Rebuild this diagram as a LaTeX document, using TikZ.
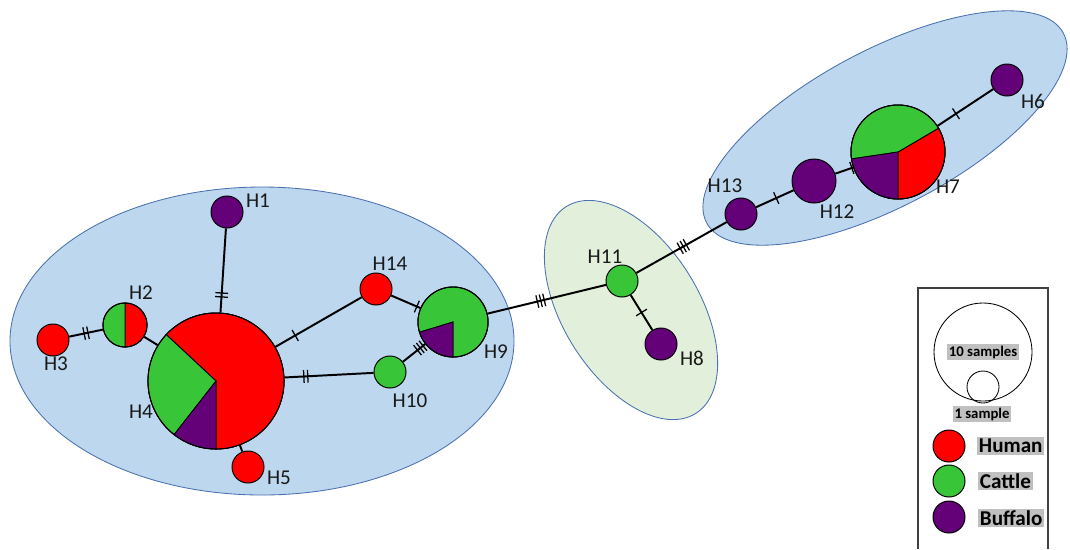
\documentclass[tikz,border=0pt]{standalone}
\usepackage{fontspec}
\setmainfont{Carlito}
\usetikzlibrary{decorations.markings}
\definecolor{hred}{HTML}{FF0000}
\definecolor{hgreen}{HTML}{38C638}
\definecolor{hpurple}{HTML}{640078}
\definecolor{blobblue}{HTML}{BDD7EE}
\definecolor{blobgreen}{HTML}{E2EFDA}
\definecolor{blobline}{HTML}{4A70B0}
\definecolor{leggray}{HTML}{C0C0C0}
\newcommand\pieslice[5]{\fill[#5,draw=black,line width=0.6pt] (#1) -- ++(#3:#2) arc[start angle=#3,end angle=#4,radius=#2] -- cycle;}
\tikzset{
  hap/.style={circle,draw=black,line width=0.7pt,inner sep=0pt,minimum size=#1},
  lab/.style={font=\fontsize{15}{17}\selectfont,text=black!90,inner sep=0pt},
  edge/.style={line width=1.4pt,black},
  tickline/.style={line width=0.9pt,black},
  tickA/.style={postaction={decorate,decoration={markings,mark=at position #1 with {\draw[tickline] (0pt,-4.5pt)--(0pt,4.5pt);}}}},
  tickB/.style={postaction={decorate,decoration={markings,mark=at position #1 with {\draw[tickline] (-1.4pt,-4.5pt)--(-1.4pt,4.5pt) (1.4pt,-4.5pt)--(1.4pt,4.5pt);}}}},
  tickC/.style={postaction={decorate,decoration={markings,mark=at position #1 with {\draw[tickline] (-2.5pt,-4.5pt)--(-2.5pt,4.5pt) (0pt,-4.5pt)--(0pt,4.5pt) (2.5pt,-4.5pt)--(2.5pt,4.5pt);}}}},
  blob/.style={fill=#1,draw=blobline,line width=0.6pt},
  legtxt/.style={fill=leggray,inner sep=1.2pt,font=\bfseries\fontsize{15}{17}\selectfont},
  legsmall/.style={fill=leggray,inner sep=1pt,font=\bfseries\fontsize{10.5}{12}\selectfont}
}
\begin{document}
\begin{tikzpicture}[x=0.025cm,y=-0.025cm]
\useasboundingbox (0,0) rectangle (1070,549);
% clusters
\draw[blob=blobblue] (262,341) ellipse[x radius=252,y radius=154];
\draw[blob=blobgreen,rotate around={-58:(631,310)}] (631,310) ellipse[x radius=122,y radius=68];
\draw[blob=blobblue,rotate around={28:(885,128)}] (885,128) ellipse[x radius=202,y radius=78];
% haplotype nodes (outlines define anchors)
\coordinate (c4) at (216,381);
\coordinate (c9) at (453,322);
\coordinate (c2) at (125,325);
\coordinate (c7) at (898,152);
\node[hap=0.8cm,fill=hpurple] (H1) at (227,212) {};
\node[hap=1.1cm] (H2) at (c2) {};
\node[hap=0.8cm,fill=hred] (H3) at (53,340) {};
\node[hap=3.4cm] (H4) at (c4) {};
\node[hap=0.8cm,fill=hred] (H5) at (248,467) {};
\node[hap=0.8cm,fill=hpurple] (H6) at (1007,80) {};
\node[hap=2.35cm] (H7) at (c7) {};
\node[hap=0.8cm,fill=hpurple] (H8) at (661,344) {};
\node[hap=1.75cm] (H9) at (c9) {};
\node[hap=0.8cm,fill=hgreen] (H10) at (390,372) {};
\node[hap=0.8cm,fill=hgreen] (H11) at (622,281) {};
\node[hap=1.1cm,fill=hpurple] (H12) at (814,181) {};
\node[hap=0.8cm,fill=hpurple] (H13) at (741,214) {};
\node[hap=0.8cm,fill=hred] (H14) at (376,289) {};
% connectors
\draw[edge,tickB=0.5] (H3) -- (H2);
\draw[edge] (H2) -- (H4);
\draw[edge,tickB=0.79] (H1) -- (H4);
\draw[edge] (H4) -- (H5);
\draw[edge,tickA=0.23] (H4) -- (H14);
\draw[edge,tickA=0.88] (H14) -- (H9);
\draw[edge,tickB=0.24] (H4) -- (H10);
\draw[edge,tickC=0.78] (H10) -- (H9);
\draw[edge,tickC=0.45] (H9) -- (H11);
\draw[edge,tickA=0.5] (H11) -- (H8);
\draw[edge,tickC=0.52] (H11) -- (H13);
\draw[edge,tickA=0.54] (H13) -- (H12);
\draw[edge,tickA=0.93] (H12) -- (H7);
\draw[edge,tickA=0.33] (H7) -- (H6);
% pie slices
\pieslice{c4}{1.7cm}{-90}{137}{hred}
\pieslice{c4}{1.7cm}{137}{232}{hgreen}
\pieslice{c4}{1.7cm}{232}{270}{hpurple}
\pieslice{c9}{0.875cm}{-90}{197}{hgreen}
\pieslice{c9}{0.875cm}{197}{270}{hpurple}
\pieslice{c2}{0.55cm}{-90}{90}{hred}
\pieslice{c2}{0.55cm}{90}{270}{hgreen}
\pieslice{c7}{1.175cm}{-90}{30.5}{hred}
\pieslice{c7}{1.175cm}{30.5}{188.5}{hgreen}
\pieslice{c7}{1.175cm}{188.5}{270}{hpurple}
\draw[line width=0.7pt] (c4) circle[radius=1.7cm];
\draw[line width=0.7pt] (c9) circle[radius=0.875cm];
\draw[line width=0.7pt] (c2) circle[radius=0.55cm];
\draw[line width=0.7pt] (c7) circle[radius=1.175cm];
% labels
\node[lab] (lH1) at (258,201) {H1};
\node[lab] (lH2) at (141,293) {H2};
\node[lab] (lH3) at (56,364) {H3};
\node[lab] (lH4) at (141,412) {H4};
\node[lab] (lH5) at (279,478) {H5};
\node[lab] (lH6) at (1033,101) {H6};
\node[lab] (lH7) at (948,187) {H7};
\node[lab] (lH8) at (692,358) {H8};
\node[lab] (lH9) at (496,352) {H9};
\node[lab] (lH10) at (410,401) {H10};
\node[lab] (lH11) at (605,257) {H11};
\node[lab] (lH12) at (837,212) {H12};
\node[lab] (lH13) at (725,186) {H13};
\node[lab] (lH14) at (390,264) {H14};
% legend
\draw[black!75,line width=0.8pt] (918,548.5) -- (918,288) -- (1048,288) -- (1048,548.5);
\node[circle,draw=black,line width=0.6pt,minimum size=2.45cm,inner sep=0pt] (big) at (983,352) {};
\node[circle,draw=black,line width=0.6pt,minimum size=0.8cm,inner sep=0pt] (small) at (983,387) {};
\node[legsmall] (t10) at (983,352) {10 samples};
\node[legsmall] (t1) at (982,414) {1 sample};
\node[hap=0.8cm,fill=hred] (lgH) at (949,446) {};
\node[hap=0.8cm,fill=hgreen] (lgC) at (949,481) {};
\node[hap=0.8cm,fill=hpurple] (lgB) at (949,517) {};
\node[legtxt,anchor=west] (tH) at (977,446) {Human};
\node[legtxt,anchor=west] (tC) at (978,481) {Cattle};
\node[legtxt,anchor=west] (tB) at (978,518) {Buffalo};
\end{tikzpicture}
\end{document}
